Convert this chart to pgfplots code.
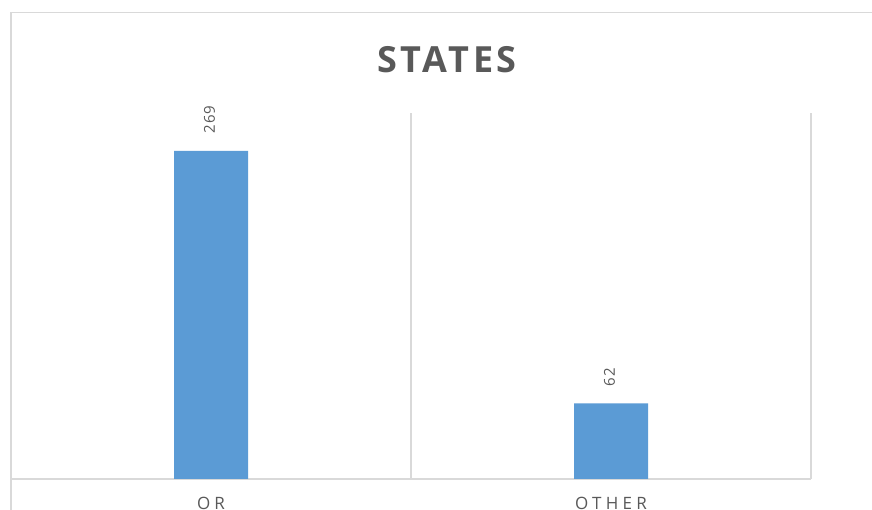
\documentclass[border=0pt]{standalone}
\usepackage{fontspec}
\setmainfont{Open Sans}
\newfontfamily\titlefont[LetterSpace=10]{Open Sans}
\newfontfamily\lblfont[LetterSpace=8]{Open Sans}
\newfontfamily\catfont[LetterSpace=25]{Open Sans}
\usepackage{pgfplots}
\pgfplotsset{compat=1.18}
\definecolor{bordergray}{HTML}{D9D9D9}
\definecolor{barblue}{HTML}{5B9BD5}
\definecolor{textgray}{HTML}{595959}
\begin{document}
\begin{tikzpicture}
\useasboundingbox (0,0) rectangle (872pt,510pt);
\clip (0,0) rectangle (872pt,510pt);
\fill[white] (0,0) rectangle (872pt,510pt);
\begin{axis}[
  at={(11pt,31pt)}, anchor=south west,
  scale only axis, width=800pt, height=366pt,
  xmin=-0.5, xmax=1.5, ymin=0, ymax=300,
  axis x line*=bottom, axis y line=none,
  x axis line style={color=bordergray, line width=1.3pt},
  xtick={0,1}, xticklabels={OR,OTHER},
  minor xtick={-0.5,0.5,1.5},
  xminorgrids=true,
  minor x grid style={color=bordergray, line width=1.3pt},
  major tick length=0pt, minor tick length=0pt,
  ytick=\empty,
  xticklabel style={anchor=base, yshift=-31pt, font=\catfont\fontsize{17}{19}\selectfont, text=textgray},
  ybar, bar width=0.185,
  nodes near coords={\lblfont\fontsize{15}{17}\selectfont\pgfmathprintnumber[assume math mode=true]{\pgfplotspointmeta}},
  every node near coord/.append style={text=textgray, inner sep=0pt, yshift=17pt, xshift=-1.5pt, rotate=90, anchor=west},
  clip=false,
]
\addplot[fill=barblue, draw=none] coordinates {(0,269) (1,62)};
\end{axis}
\draw[bordergray, line width=1.3pt] (11pt,-10pt) -- (11pt,497.5pt) -- (900pt,497.5pt);
\node[anchor=base, text=textgray, inner sep=0pt] at (447pt,437pt) {\titlefont\bfseries\fontsize{36}{40}\selectfont STATES};
\end{tikzpicture}
\end{document}
